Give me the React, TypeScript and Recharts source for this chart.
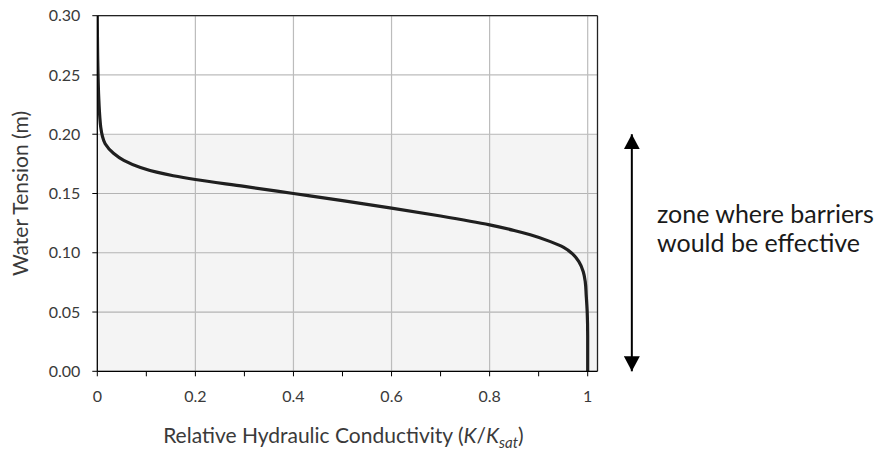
import React from 'react'
import {
  ComposedChart,
  Line,
  XAxis,
  YAxis,
  CartesianGrid,
  ReferenceArea,
  ReferenceLine,
  Customized,
} from 'recharts'

// water tension (m), top of the curve to the bottom
const tension = [
  0.3, 0.26, 0.23, 0.215, 0.206, 0.199, 0.192, 0.184, 0.178, 0.172, 0.168, 0.165, 0.1618, 0.156, 0.15,
  0.144, 0.1377, 0.131, 0.1235, 0.1188, 0.1152, 0.1094, 0.1046, 0.0995, 0.0925, 0.084, 0.0756, 0.064,
  0.05, 0.03, 0,
]
// relative hydraulic conductivity K/Ksat at each tension
const conductivity = [
  0, 0.001, 0.003, 0.005, 0.007, 0.01, 0.016, 0.033, 0.054, 0.088, 0.121, 0.155, 0.2, 0.3, 0.4,
  0.5, 0.6, 0.7, 0.8, 0.85, 0.883, 0.924, 0.951, 0.968, 0.982, 0.991, 0.995, 0.997,
  0.999, 1, 1,
]

const xTicks = [0, 0.1, 0.2, 0.3, 0.4, 0.5, 0.6, 0.7, 0.8, 0.9, 1]
const xGrid = [0.2, 0.4, 0.6, 0.8, 1]
const yTicks = [0, 0.05, 0.1, 0.15, 0.2, 0.25, 0.3]
const xMax = 1.02
const yMax = 0.3
const zoneBottom = 0
const zoneTop = 0.2
const arrowX = 1.09

const data = tension.map((h, i) => ({ h, k: conductivity[i] }))

const FONT = 'Lato, "Open Sans", sans-serif'
const TEXT = '#3a3a3a'

const ArrowDefs = () => (
  <defs>
    <marker id="arrowHead" markerWidth="16" markerHeight="16" refX="15" refY="8" orient="auto-start-reverse" markerUnits="userSpaceOnUse">
      <path d="M0,0 L15,8 L0,16 Z" fill="#000" />
    </marker>
  </defs>
)

const XTitle = (props: any) => {
  const vb = props.viewBox || {}
  const cx = vb.x + vb.width / 2 - 4
  const y = vb.y + 72
  return (
    <text x={cx} y={y} textAnchor="middle" fill={TEXT} fontFamily={FONT} fontSize={21}>
      Relative Hydraulic Conductivity (
      <tspan fontStyle="italic">K</tspan>/<tspan fontStyle="italic">K</tspan>
      <tspan fontStyle="italic" fontSize={15} dy={5}>sat</tspan>
      <tspan dy={-5}>)</tspan>
    </text>
  )
}

const YTitle = (props: any) => {
  const vb = props.viewBox || {}
  const cx = 19
  const cy = vb.y + vb.height / 2
  return (
    <text x={cx} y={cy} transform={`rotate(-90 ${cx} ${cy})`} textAnchor="middle" dominantBaseline="central" fill={TEXT} fontFamily={FONT} fontSize={21}>
      Water Tension (m)
    </text>
  )
}

export default function App() {
  return (
    <div style={{ position: 'fixed', left: 0, top: 0, width: 877, height: 450, background: '#fff' }}>
      <ComposedChart
        width={877}
        height={450}
        data={data}
        layout="vertical"
        margin={{ top: 15.7, right: 279.5, left: 37.3, bottom: 48.7 }}
      >
        <Customized component={<ArrowDefs />} />
        <ReferenceArea x1={0} x2={xMax} y1={zoneBottom} y2={zoneTop} fill="#000" fillOpacity={0.045} stroke="none" ifOverflow="visible" />
        <CartesianGrid vertical={false} stroke="#bcbcbc" strokeWidth={1.2} />
        {xGrid.map((v) => (
          <ReferenceLine key={v} x={v} stroke="#bcbcbc" strokeWidth={1.2} />
        ))}
        <ReferenceLine y={yMax} stroke="#222" strokeWidth={1.3} />
        <ReferenceLine x={xMax} stroke="#222" strokeWidth={1.3} />
        <XAxis
          type="number"
          domain={[0, xMax]}
          ticks={xTicks}
          interval={0}
          tickFormatter={(v: number) => (Math.round(v * 10) % 2 === 0 ? String(v) : '')}
          axisLine={{ stroke: '#000', strokeWidth: 1.3 }}
          tickLine={{ stroke: '#000' }}
          tickSize={5}
          tickMargin={14}
          height={30}
          tick={{ fill: TEXT, fontFamily: FONT, fontSize: 16 }}
          allowDataOverflow
          label={<XTitle />}
        />
        <YAxis
          type="number"
          dataKey="h"
          domain={[0, yMax]}
          ticks={yTicks}
          interval={0}
          reversed
          tickFormatter={(v: number) => v.toFixed(2)}
          axisLine={{ stroke: '#000', strokeWidth: 1.3 }}
          tickLine={{ stroke: '#000' }}
          tickSize={5}
          tickMargin={12}
          width={60}
          tick={{ fill: TEXT, fontFamily: FONT, fontSize: 16 }}
          label={<YTitle />}
        />
        <Line
          dataKey="k"
          type="monotone"
          stroke="#1f1f1f"
          strokeWidth={3.2}
          dot={false}
          activeDot={false}
          isAnimationActive={false}
        />
        <ReferenceLine
          segment={[
            { x: arrowX, y: zoneBottom },
            { x: arrowX, y: zoneTop },
          ]}
          ifOverflow="visible"
          stroke="#000"
          strokeWidth={2}
          markerStart="url(#arrowHead)"
          markerEnd="url(#arrowHead)"
        />
      </ComposedChart>
      <div
        style={{
          position: 'absolute',
          left: 657,
          top: 199,
          fontFamily: FONT,
          fontSize: 25,
          lineHeight: '29px',
          color: '#1a1a1a',
          whiteSpace: 'nowrap',
        }}
      >
        zone where barriers
        <br />
        would be effective
      </div>
    </div>
  )
}
